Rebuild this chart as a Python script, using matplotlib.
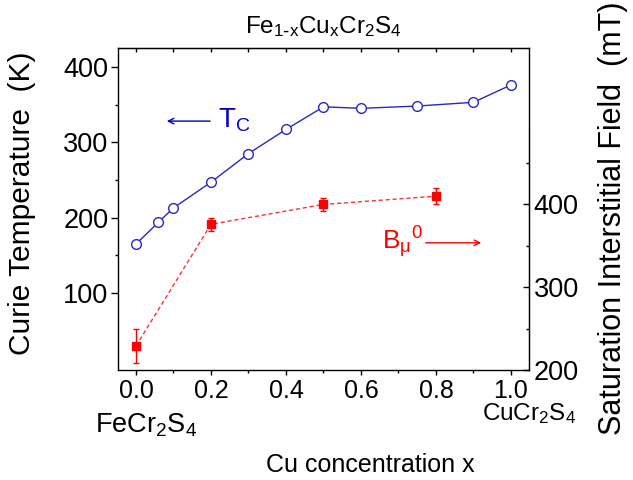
import numpy as np
import matplotlib
matplotlib.use("Agg")
import matplotlib.pyplot as plt

plt.rcParams['font.family'] = ['Liberation Sans', 'DejaVu Sans']
plt.rcParams['mathtext.default'] = 'regular'

# Curie temperature vs Cu concentration
x_tc = [0.0, 0.06, 0.1, 0.2, 0.3, 0.4, 0.5, 0.6, 0.75, 0.9, 1.0]
tc = [165, 194, 213, 247, 285, 317, 347, 345, 348, 353, 376]

# saturation interstitial field (mT)
x_b = [0.0, 0.2, 0.5, 0.8]
b_sat = [229, 376, 400, 410]
b_err = [20, 8, 7.5, 10]

blue = '#2828c0'
red = '#ff0000'

fig = plt.figure(figsize=(6.33, 4.8), dpi=100)
ax = fig.add_axes([0.1864, 0.2292, 0.6493, 0.6708])

ax.plot(x_tc, tc, '-o', color=blue, lw=1, mfc='white', mec=blue, ms=7, mew=1, zorder=3)
ax.set_xlim(-0.048, 1.048)
ax.set_ylim(-2, 425)
ax.set_xticks([0.0, 0.2, 0.4, 0.6, 0.8, 1.0])
ax.set_xticks([0.1, 0.3, 0.5, 0.7, 0.9], minor=True)
ax.set_xticklabels(['0.0', '0.2', '0.4', '0.6', '0.8', '1.0'])
ax.set_yticks([100, 200, 300, 400])
ax.set_yticks([150, 250, 350], minor=True)
ax.tick_params(axis='x', which='major', direction='out', length=3.5, width=1, labelsize=18, pad=3)
ax.tick_params(axis='x', which='minor', direction='out', length=2, width=1)
ax.tick_params(axis='y', which='major', direction='out', length=5, width=1, labelsize=19.5, pad=2)
ax.tick_params(axis='y', which='minor', direction='out', length=2, width=1)
for s in ax.spines.values():
    s.set_linewidth(1)

top = ax.secondary_xaxis('top')
top.set_xticks(np.arange(0, 1.01, 0.1))
top.tick_params(direction='in', length=3, width=1, labeltop=False)

ax2 = ax.twinx()
ax2.errorbar(x_b, b_sat, yerr=b_err, fmt='s', color=red, ms=5.5, ecolor=red,
             elinewidth=1, capsize=2.5, capthick=1, zorder=3)
ax2.plot(x_b, b_sat, '--', color='#ff3030', lw=1, dashes=(3, 2))
ax2.set_ylim(200, 589)
ax2.set_yticks([200, 300, 400])
ax2.set_yticks([250, 350, 450], minor=True)
ax2.spines['right'].set_bounds(200, 492)
ax2.tick_params(axis='y', which='major', direction='in', length=4.5, width=1, labelsize=19.5, pad=3.5)
ax2.tick_params(axis='y', which='minor', direction='in', length=2.5, width=1)
for s in ['top', 'bottom', 'left']:
    ax2.spines[s].set_visible(False)

# annotations
ax.text(0.243, 0.752, r'$T_C$', color='#0000c8', fontsize=20, transform=ax.transAxes, va='baseline')
ax.annotate('', xy=(0.112, 0.773), xytext=(0.231, 0.773), xycoords='axes fraction',
            arrowprops=dict(arrowstyle='->', color='#0000c8', lw=1))
ax.text(0.6416, 0.375, r'$B_{\mu}{}^{0}$', color=red, fontsize=19, transform=ax.transAxes, va='baseline')
ax.annotate('', xy=(0.8905, 0.395), xytext=(0.742, 0.395), xycoords='axes fraction',
            arrowprops=dict(arrowstyle='->', color=red, lw=1))

fig.text(0.511, 0.931, r'$Fe_{1\text{-}x}Cu_xCr_2S_4$', fontsize=17.5, ha='center', va='baseline')
fig.text(0.150, 0.098, r'$FeCr_2S_4$', fontsize=19.5, ha='left', va='baseline')
fig.text(0.7615, 0.124, r'$CuCr_2S_4$', fontsize=17.5, ha='left', va='baseline')
fig.text(0.5845, 0.0167, 'Cu concentration x', fontsize=18, ha='center', va='baseline')
fig.text(0.034, 0.577, 'Curie Temperature  (K)', fontsize=21.5, rotation=90, ha='center', va='center')
fig.text(0.969, 0.546, 'Saturation Interstitial Field  (mT)', fontsize=22, rotation=90, ha='center', va='center')

fig.savefig('out.png', dpi=100)
